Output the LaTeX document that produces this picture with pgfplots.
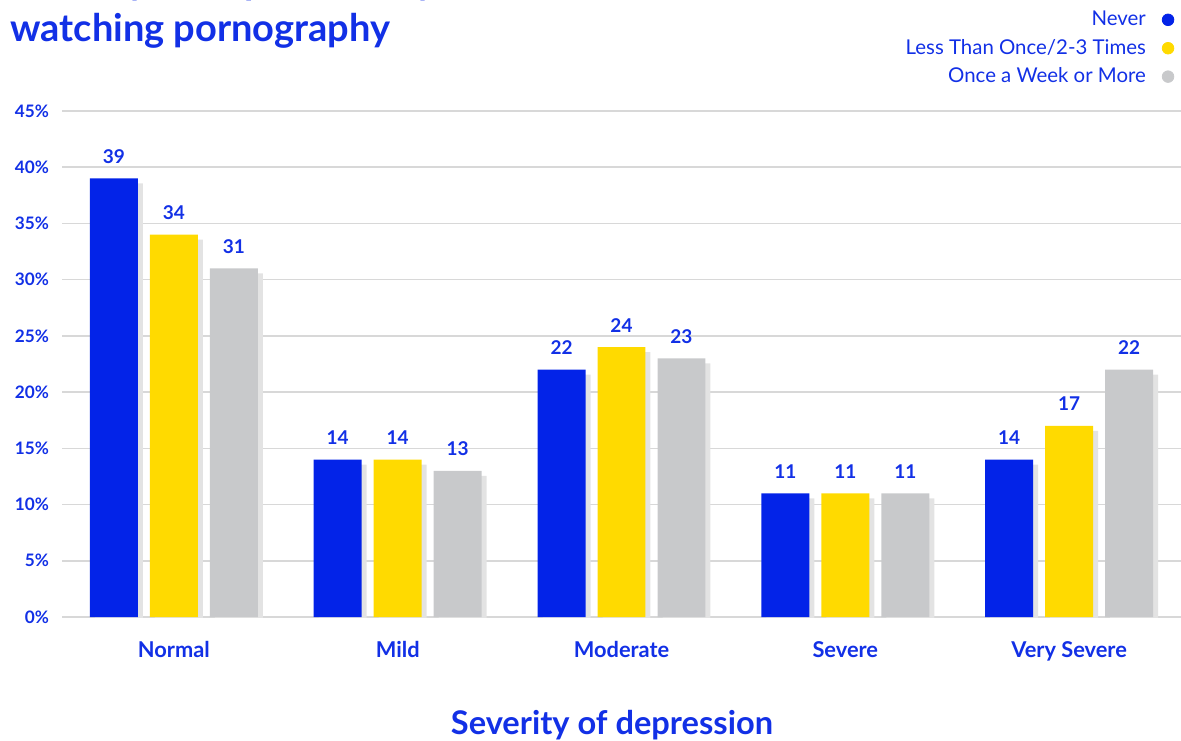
\documentclass[border=0pt]{standalone}
\usepackage{pgfplots}
\pgfplotsset{compat=1.18}
\usetikzlibrary{shadows}
\usepackage{fontspec}
\setmainfont{Lato}
\definecolor{cblue}{HTML}{0323E8}
\definecolor{tblue}{HTML}{1230E6}
\definecolor{cyellow}{HTML}{FFDA00}
\definecolor{cgray}{HTML}{C8C9CB}
\definecolor{shgray}{HTML}{E3E3E3}
\definecolor{gridgray}{HTML}{D8D8D8}
\begin{document}
\begin{tikzpicture}
\useasboundingbox (0,0) rectangle (590.5pt,370pt);
\node[anchor=base west, font=\fontsize{19pt}{22pt}\selectfont\bfseries, text=tblue, inner sep=0pt] at (5pt,372.5pt) {Severity of depression by};
\node[anchor=base west, font=\fontsize{19pt}{22pt}\selectfont\bfseries, text=tblue, inner sep=0pt] at (5pt,349pt) {watching pornography};
\node[anchor=center, font=\fontsize{16.3pt}{18pt}\selectfont\bfseries, text=tblue, inner sep=0pt] at (306pt,7.5pt) {Severity of depression};
\begin{axis}[
  at={(31pt,61.5pt)}, anchor=south west,
  scale only axis, width=559.5pt, height=253pt,
  /pgf/number format/assume math mode=true,
  ybar, bar width=0.2143,
  xmin=-0.5, xmax=4.5, ymin=0, ymax=45,
  xtick={0,1,2,3,4},
  xticklabels={Normal,Mild,Moderate,Severe,Very Severe},
  major x tick style={draw=none},
  extra x ticks={-0.5,0.5,1.5,2.5,3.5,4.5},
  extra x tick labels={},
  extra x tick style={major tick length=5pt, tick align=inside, tick style={draw=gridgray, line width=0.75pt}},
  xticklabel style={anchor=base, yshift=-15.8pt, font=\fontsize{10.9pt}{12pt}\selectfont\bfseries, text=tblue},
  ytick={0,5,...,45},
  yticklabels={0\%,5\%,10\%,15\%,20\%,25\%,30\%,35\%,40\%,45\%},
  yticklabel style={anchor=east, xshift=-3pt, font=\fontsize{8.6pt}{10pt}\selectfont\bfseries, text=tblue},
  major y tick style={draw=none},
  ymajorgrids, grid style={draw=gridgray, line width=0.75pt},
  axis x line*=bottom, axis y line*=left,
  x axis line style={draw=gridgray, line width=0.9pt, -},
  y axis line style={draw=none},
  nodes near coords={\pgfmathprintnumber[assume math mode=true]{\pgfplotspointmeta}},
  every node near coord/.append style={font=\fontsize{9.5pt}{11pt}\selectfont\bfseries, text=tblue, yshift=4pt},
  legend plot pos=right,
  legend cell align=right,
  legend style={draw=none, fill=none, at={(0.9997,1.2065)}, anchor=north east,
    row sep=4.5pt, column sep=8pt,
    font=\fontsize{10.2pt}{12pt}\selectfont, text=tblue,
    nodes={inner sep=0pt, text height=7.5pt, text depth=2.2pt}},
]
\addlegendimage{legend image code/.code={\fill[cblue] (2.9pt,0.4pt) circle (2.9pt);}}
\addlegendentry{Never}
\addlegendimage{legend image code/.code={\fill[cyellow] (2.9pt,0.4pt) circle (2.9pt);}}
\addlegendentry{Less Than Once/2-3 Times}
\addlegendimage{legend image code/.code={\fill[cgray] (2.9pt,0.4pt) circle (2.9pt);}}
\addlegendentry{Once a Week or More}
\addplot[forget plot, draw=none, fill=cblue, bar shift=-0.268,
  drop shadow={shadow xshift=2.5pt, shadow yshift=-2.5pt, fill=shgray, opacity=1}]
  coordinates {(0,39) (1,14) (2,22) (3,11) (4,14)};
\addplot[forget plot, draw=none, fill=cyellow, bar shift=0,
  drop shadow={shadow xshift=2.5pt, shadow yshift=-2.5pt, fill=shgray, opacity=1}]
  coordinates {(0,34) (1,14) (2,24) (3,11) (4,17)};
\addplot[forget plot, draw=none, fill=cgray, bar shift=0.268,
  drop shadow={shadow xshift=2.5pt, shadow yshift=-2.5pt, fill=shgray, opacity=1}]
  coordinates {(0,31) (1,13) (2,23) (3,11) (4,22)};
\end{axis}
\end{tikzpicture}
\end{document}
